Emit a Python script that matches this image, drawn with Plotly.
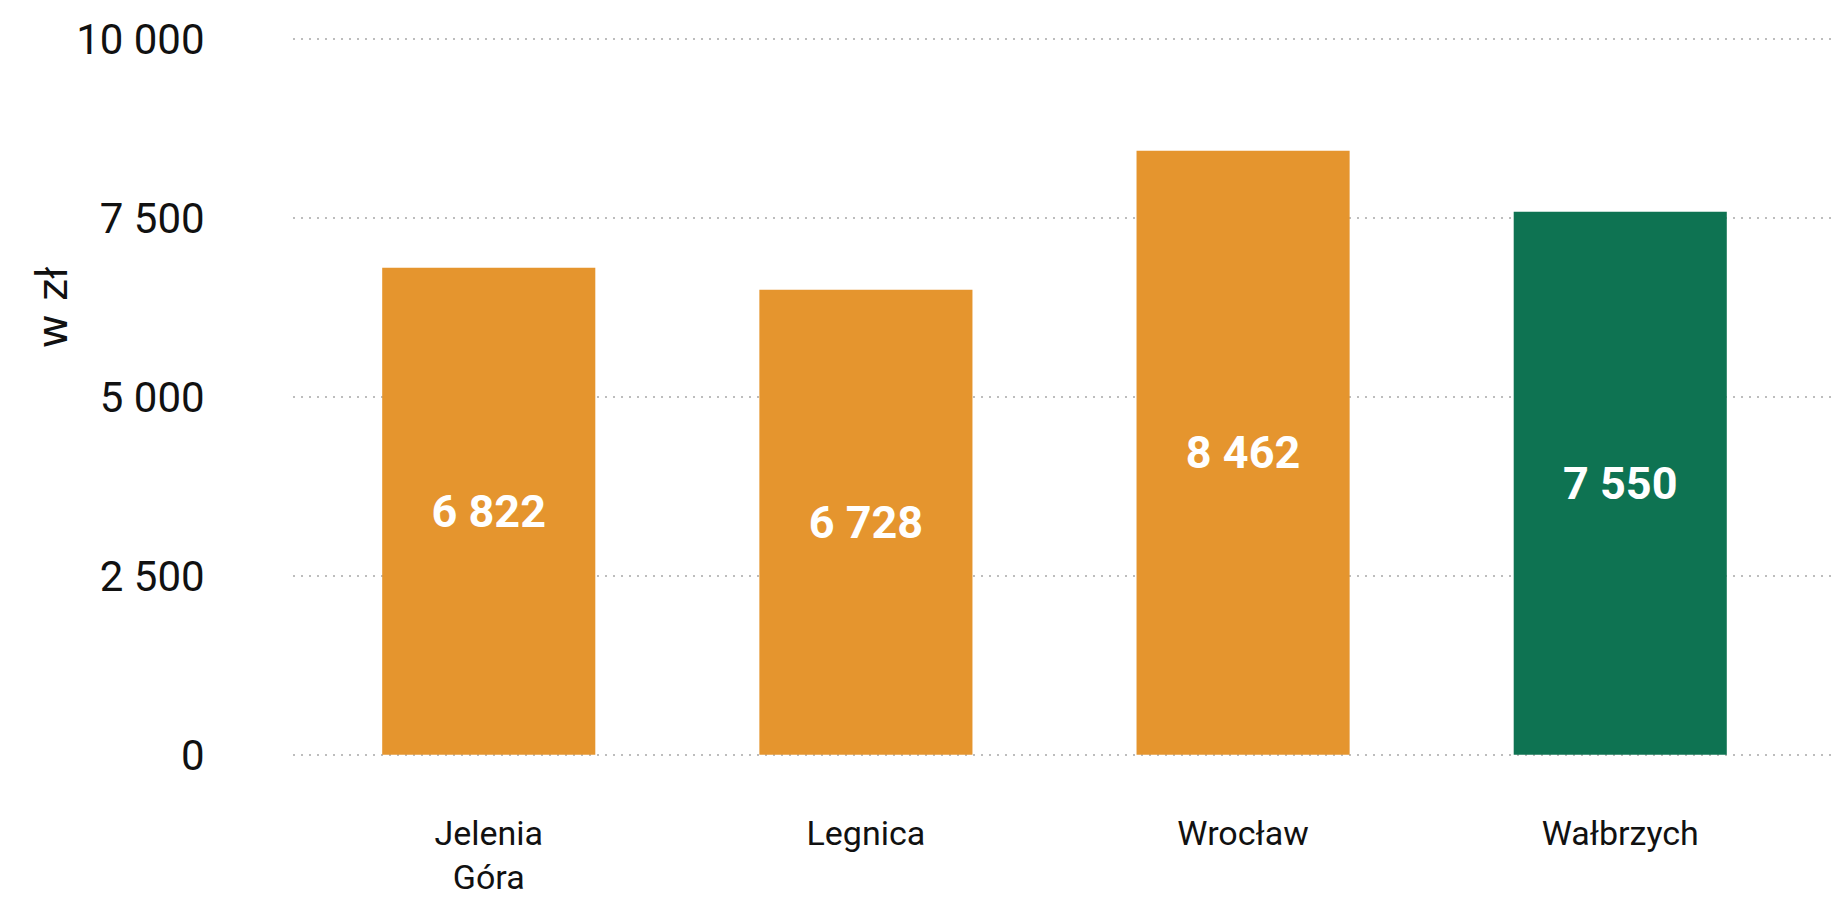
import plotly.graph_objects as go

# ---- data ----
cities = ["Jelenia<br>Góra", "Legnica", "Wrocław", "Wałbrzych"]
bar_heights = [6806, 6499, 8440, 7588]          # heights as drawn in the picture
value_labels = ["6 822", "6 728", "8 462", "7 550"]
bar_colors = ["#E5952E", "#E5952E", "#E5952E", "#0E7352"]
y_tickvals = [0, 2500, 5000, 7500, 10000]
y_ticktext = ["0", "2 500", "5 000", "7 500", "10 000"]
y_title = "w zł"

# the page body adds an 8px margin, so the figure is 8px smaller than the window
W, H = 1831, 891
FONT = "Roboto, 'Noto Sans', sans-serif"

fig = go.Figure(
    go.Bar(
        x=cities,
        y=bar_heights,
        text=value_labels,
        texttemplate="%{text}",
        textposition="inside",
        insidetextanchor="middle",
        textangle=0,
        constraintext="none",
        textfont=dict(family=FONT, size=45, color="white", weight="bold"),
        marker=dict(color=bar_colors, line=dict(width=0)),
        width=0.565,
        hoverinfo="skip",
    )
)

fig.update_layout(
    width=W,
    height=H,
    paper_bgcolor="white",
    plot_bgcolor="white",
    showlegend=False,
    margin=dict(l=285, r=0, t=29, b=142, autoexpand=False),
    font=dict(family=FONT, color="#111111"),
    xaxis=dict(
        type="category",
        range=[-0.519, 3.580],
        showgrid=False,
        zeroline=False,
        showline=False,
        ticks="outside",
        ticklen=46,
        tickcolor="rgba(0,0,0,0)",
        tickfont=dict(family=FONT, size=34, color="#111111"),
        fixedrange=True,
    ),
    yaxis=dict(
        range=[-30, 10030],
        tickvals=y_tickvals,
        ticktext=y_ticktext,
        showgrid=True,
        gridcolor="#BDBDBD",
        gridwidth=2,
        griddash="2px,6px",
        zeroline=False,
        showline=False,
        ticks="outside",
        ticklen=79,
        tickcolor="rgba(0,0,0,0)",
        tickfont=dict(family=FONT, size=42, color="#111111"),
        fixedrange=True,
    ),
    annotations=[
        dict(
            text=y_title,
            xref="paper",
            yref="paper",
            x=-0.1562,
            y=0.6236,
            xanchor="center",
            yanchor="middle",
            textangle=-90,
            showarrow=False,
            font=dict(family="'DejaVu Sans', sans-serif", size=42, color="#111111"),
        )
    ],
)

fig.write_html("out.html")
